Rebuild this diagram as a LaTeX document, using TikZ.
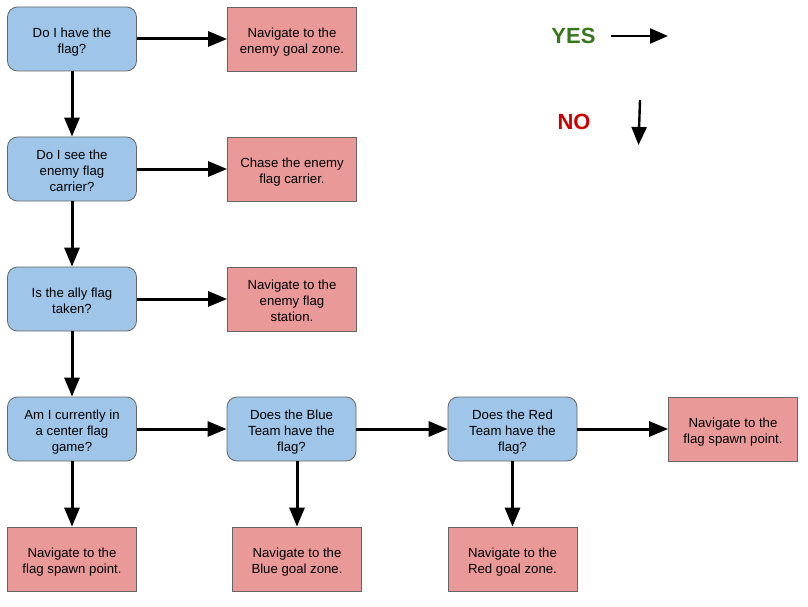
\documentclass[tikz,border=0pt]{standalone}
\usepackage{fontspec}
\setmainfont{Liberation Sans}
\usetikzlibrary{arrows.meta}
\definecolor{qfill}{HTML}{9FC5E8}
\definecolor{afill}{HTML}{EA9999}
\definecolor{edge}{HTML}{666666}
\definecolor{yesgreen}{HTML}{38761D}
\definecolor{nored}{HTML}{CC0000}
% centred lines with even 16pt line boxes, set a little low in the box
\newcommand\boxlines[1]{\raisebox{-3pt}[\height][\depth]{\begin{tabular}{@{}c@{}}#1\end{tabular}}}
\tikzset{
  box/.style={draw=edge, line width=0.8pt, minimum height=64pt, inner sep=0pt,
    text=black, font=\fontsize{13.2}{16}\selectfont},
  question/.style={box, fill=qfill, rounded corners=10pt, minimum width=129pt},
  action/.style={box, fill=afill, minimum width=129pt},
  flow/.style={line width=3pt, -{Triangle[length=19pt, width=15pt]}},
  legendarrow/.style={line width=2.4pt, -{Triangle[length=18pt, width=15pt]}},
  legendtext/.style={font=\fontsize{22}{26}\selectfont\bfseries, inner sep=0pt}
}
\begin{document}
\begin{tikzpicture}[x=1pt, y=-1pt]
\useasboundingbox (0,0) rectangle (808,607);

% decision column
\node[question] (q1) at (72,39)  {\boxlines{Do I have the\\flag?}};
\node[question] (q2) at (72,169) {\boxlines{Do I see the\\enemy flag\\carrier?}};
\node[question] (q3) at (72,299) {\boxlines{Is the ally flag\\taken?}};
\node[question] (q4) at (72,429) {\boxlines{Am I currently in\\a center flag\\game?}};
\node[question] (q5) at (291.5,429) {\boxlines{Does the Blue\\Team have the\\flag?}};
\node[question] (q6) at (512.5,429) {\boxlines{Does the Red\\Team have the\\flag?}};

% actions
\node[action] (a1) at (292,39)  {\boxlines{Navigate to the\\enemy goal zone.}};
\node[action] (a2) at (292,169) {\boxlines{Chase the enemy\\flag carrier.}};
\node[action] (a3) at (292,299) {\boxlines{Navigate to the\\enemy flag\\station.}};
\node[action] (a4) at (72,559)  {\boxlines{Navigate to the\\flag spawn point.}};
\node[action] (a5) at (297,559) {\boxlines{Navigate to the\\Blue goal zone.}};
\node[action] (a6) at (512.5,559) {\boxlines{Navigate to the\\Red goal zone.}};
\node[action] (a7) at (733,429) {\boxlines{Navigate to the\\flag spawn point.}};

% yes branches
\draw[flow] (q1) -- (a1);
\draw[flow] (q2) -- (a2);
\draw[flow] (q3) -- (a3);
\draw[flow] (q4) -- (q5);
\draw[flow] (q5) -- (q6);
\draw[flow] (q6) -- (a7);

% no branches
\draw[flow] (q1) -- (q2);
\draw[flow] (q2) -- (q3);
\draw[flow] (q3) -- (q4);
\draw[flow] (q4) -- (a4);
\draw[flow] (q5.south -| a5.north) -- (a5.north);
\draw[flow] (q6) -- (a6);

% legend
\node[legendtext, text=yesgreen] (yes) at (573.5,36) {YES};
\node[legendtext, text=nored] (no) at (574,122) {NO};
\coordinate (yesA) at (611,36);
\coordinate (yesB) at (668,36);
\coordinate (noA) at (640,100);
\coordinate (noB) at (638.5,145);
\draw[legendarrow] (yesA) -- (yesB);
\draw[legendarrow] (noA) -- (noB);
\end{tikzpicture}
\end{document}
